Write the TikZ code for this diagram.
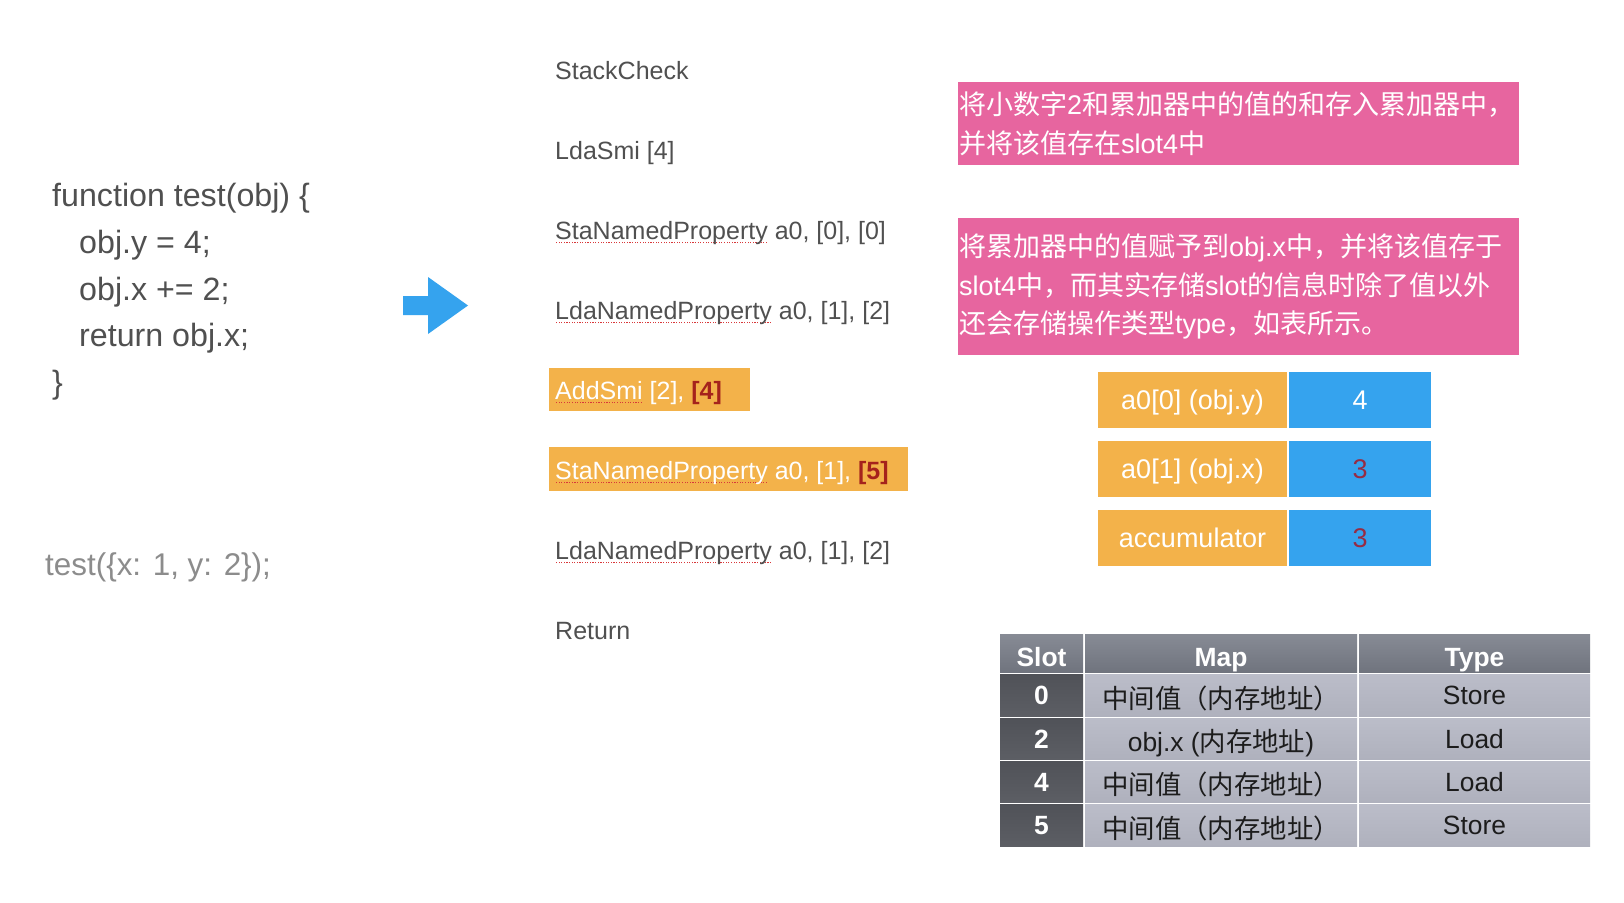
\documentclass[tikz,border=0pt]{standalone}
\usepackage{fontspec}
\setmainfont{Liberation Sans}
\newfontfamily\cjk{Noto Sans CJK SC}
\newcommand\zh[1]{{\cjk #1}}
\definecolor{txtgray}{HTML}{505050}
\definecolor{callgray}{HTML}{8C8C8C}
\definecolor{orng}{HTML}{F3B24A}
\definecolor{pinkbox}{HTML}{E7659F}
\definecolor{blu}{HTML}{35A3EE}
\definecolor{dred}{HTML}{A5231C}
\definecolor{numred}{HTML}{962C44}
\definecolor{squig}{HTML}{D8383A}
\definecolor{hdrA}{HTML}{878B95}
\definecolor{hdrB}{HTML}{70747E}
\definecolor{slotA}{HTML}{505258}
\definecolor{slotB}{HTML}{5C5E64}
\definecolor{bodyA}{HTML}{BBBDC9}
\definecolor{bodyB}{HTML}{AFB1BD}
\definecolor{tblk}{HTML}{1C1C1C}
\newsavebox\sqbx
\newcommand\sq[1]{\sbox\sqbx{#1}\rlap{\raisebox{-4pt}{\color{squig}\hbox to \wd\sqbx{\xleaders\hbox to 2.6pt{\hss\rule{1.2pt}{1.2pt}\hss}\hfill}}}\usebox\sqbx}
\begin{document}
\begin{tikzpicture}[x=1pt,y=-1pt,
  code/.style={anchor=base west, inner sep=0pt, text=txtgray, font=\fontsize{32.2}{38}\selectfont},
  bc/.style={anchor=base west, inner sep=0pt, text=txtgray, font=\fontsize{25}{30}\selectfont},
  hlbox/.style={fill=orng, inner sep=0pt},
  note/.style={fill=pinkbox, text=white, inner xsep=1pt, inner ysep=0pt, text width=559pt, align=left, minimum width=561pt, font=\fontsize{27}{38.5}\selectfont},
  regk/.style={fill=orng, text=white, minimum width=189pt, minimum height=56pt, inner sep=0pt, text height=19.4pt, text depth=0pt, font=\fontsize{27}{32}\selectfont},
  regv/.style={regk, fill=blu, minimum width=142pt},
  tcell/.style={inner sep=0pt, text height=19pt, text depth=0pt, font=\fontsize{26.4}{30}\selectfont},
  hdr/.style={tcell, text height=26pt, top color=hdrA, bottom color=hdrB, text=white, font=\fontsize{26.4}{30}\selectfont\bfseries},
  slotc/.style={tcell, top color=slotA, bottom color=slotB, text=white, font=\fontsize{26.4}{30}\selectfont\bfseries},
  bodyc/.style={tcell, top color=bodyA, bottom color=bodyB, text=tblk},
  mapc/.style={bodyc, text height=26pt},
]
\useasboundingbox (0,0) rectangle (1624,902);
\fill[white] (0,0) rectangle (1624,902);

% source code
\node[code] (c1) at (52,206) {function test(obj) \{};
\node[code] (c2) at (79,253) {obj.y = 4;};
\node[code] (c3) at (79,300) {obj.x += 2;};
\node[code] (c4) at (79,346) {return obj.x;};
\node[code] (c5) at (52,393) {\}};
\node[code, text=callgray, font=\fontsize{31.4}{38}\selectfont] (call) at (45,575) {test(\{x: 1, y: 2\});};

% big arrow
\fill[blu] (403,296) -- (428,296) -- (428,277) -- (468,305.5) -- (428,334) -- (428,315) -- (403,315) -- cycle;

% highlight boxes
\node[hlbox, minimum width=201pt, minimum height=43pt] (h1) at (649.5,389.5) {};
\node[hlbox, minimum width=359pt, minimum height=44pt] (h2) at (728.5,469) {};

% bytecode
\node[bc] (b1) at (555,79) {StackCheck};
\node[bc] (b2) at (555,159) {LdaSmi [4]};
\node[bc] (b3) at (555,239) {\sq{StaNamedProperty} a0, [0], [0]};
\node[bc] (b4) at (555,319) {\sq{LdaNamedProperty} a0, [1], [2]};
\node[bc, text=white] (b5) at (555,399) {\sq{AddSmi} [2], {\bfseries\color{dred}[4]}};
\node[bc, text=white] (b6) at (555,479) {\sq{StaNamedProperty} a0, [1], {\bfseries\color{dred}[5]}};
\node[bc] (b7) at (555,559) {\sq{LdaNamedProperty} a0, [1], [2]};
\node[bc] (b8) at (555,639) {Return};

% notes
\node[note, minimum height=83pt] (n1) at (1238.5,123.5)
  {\zh{将小数字}2\zh{和累加器中的值的和存入累加器中，}\\\zh{并将该值存在}slot4\zh{中}};
\node[note, minimum height=137pt] (n2) at (1238.5,286.5)
  {\zh{将累加器中的值赋予到}obj.x\zh{中，并将该值存于}\\slot4\zh{中，而其实存储}slot\zh{的信息时除了值以外}\\\zh{还会存储操作类型}type\zh{，如表所示。}};

% registers
\node[regk] (k1) at (1192.5,400) {a0[0] (obj.y)};
\node[regv] (v1) at (1360,400) {4};
\node[regk] (k2) at (1192.5,469) {a0[1] (obj.x)};
\node[regv, text=numred] (v2) at (1360,469) {3};
\node[regk] (k3) at (1192.5,538) {accumulator};
\node[regv, text=numred] (v3) at (1360,538) {3};

% feedback table
\node[hdr, minimum width=83pt, minimum height=38pt] (th1) at (1041.5,653) {Slot};
\node[hdr, minimum width=272pt, minimum height=38pt] (th2) at (1221,653) {Map};
\node[hdr, minimum width=231pt, minimum height=38pt] (th3) at (1474.5,653) {Type};

\node[slotc, minimum width=83pt, minimum height=42pt] (s0) at (1041.5,695) {0};
\node[mapc, minimum width=272pt, minimum height=42pt] (m0) at (1221,695) {\zh{中间值（内存地址）}};
\node[bodyc, minimum width=231pt, minimum height=42pt] (t0) at (1474.5,695) {Store};

\node[slotc, minimum width=83pt, minimum height=41pt] (s1) at (1041.5,738.5) {2};
\node[mapc, minimum width=272pt, minimum height=41pt] (m1) at (1221,738.5) {obj.x (\zh{内存地址})};
\node[bodyc, minimum width=231pt, minimum height=41pt] (t1) at (1474.5,738.5) {Load};

\node[slotc, minimum width=83pt, minimum height=41pt] (s2) at (1041.5,781.5) {4};
\node[mapc, minimum width=272pt, minimum height=41pt] (m2) at (1221,781.5) {\zh{中间值（内存地址）}};
\node[bodyc, minimum width=231pt, minimum height=41pt] (t2) at (1474.5,781.5) {Load};

\node[slotc, minimum width=83pt, minimum height=42pt] (s3) at (1041.5,825) {5};
\node[mapc, minimum width=272pt, minimum height=42pt] (m3) at (1221,825) {\zh{中间值（内存地址）}};
\node[bodyc, minimum width=231pt, minimum height=42pt] (t3) at (1474.5,825) {Store};
\end{tikzpicture}
\end{document}
